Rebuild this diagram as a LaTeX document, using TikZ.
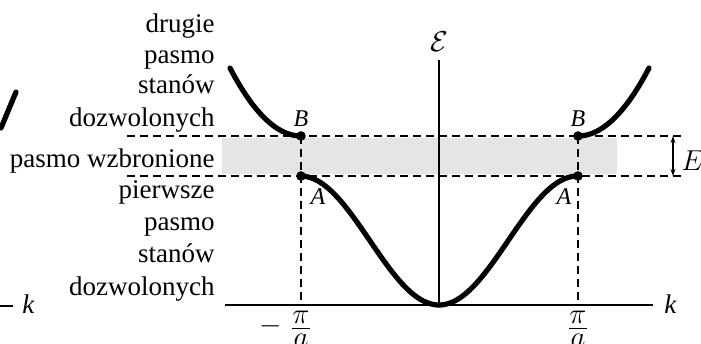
\documentclass[tikz,border=0pt]{standalone}
\usepackage{fontspec}
\setmainfont{Liberation Serif}
\usetikzlibrary{arrows.meta}
\begin{document}
\begin{tikzpicture}[x=0.5pt,y=-0.5pt,
  thick curve/.style={line width=2.6pt,line cap=round},
  axisline/.style={line width=0.7pt},
  dashline/.style={line width=0.7pt,dash pattern=on 4pt off 2.5pt},
  lbl/.style={font=\fontsize{13.5}{16}\selectfont,inner sep=0pt,anchor=base east},
  ptlbl/.style={font=\fontsize{12}{14}\selectfont\itshape,inner sep=0pt},
  fr/.style={font=\fontsize{13.5}{16}\selectfont,inner sep=0pt},
  dot/.style={circle,fill=black,inner sep=0pt,minimum size=4.8pt}]
\useasboundingbox (0,0) rectangle (701,343);
% band
\fill[gray!20] (222,138) rectangle (617,174);
% coordinates
\coordinate (O) at (439,305);
\coordinate (Etop) at (439,60);
\coordinate (Kl) at (225,305);
\coordinate (Kr) at (653,305);
\coordinate (Bl) at (301,136);
\coordinate (Al) at (301,176);
\coordinate (Br) at (578,136);
\coordinate (Ar) at (578,176);
\coordinate (Pl) at (301,305);
\coordinate (Pr) at (578,305);
\coordinate (Dtl) at (127,136);
\coordinate (Dtr) at (683,136);
\coordinate (Dbl) at (127,176);
\coordinate (Dbr) at (683,176);
\coordinate (Gt) at (673,136);
\coordinate (Gb) at (673,176);
% dashed lines
\draw[dashline] (Dtl) -- (Dtr);
\draw[dashline] (Dbl) -- (Dbr);
\draw[dashline] (Bl) -- (Pl);
\draw[dashline] (Br) -- (Pr);
% axes
\draw[axisline] (Kl) -- (Kr);
\draw[axisline] (O) -- (Etop);
% curves
\draw[thick curve] plot[domain=-1:1,samples=121,smooth] ({439+138.5*\x},{176+64.5*(1+cos(180*\x))});
\draw[thick curve] plot[domain=0:1,samples=41,smooth] ({301-71*\x},{136-68*\x*\x});
\draw[thick curve] plot[domain=0:1,samples=41,smooth] ({578+71*\x},{136-68*\x*\x});
\node[dot] (dBl) at (Bl) {};
\node[dot] (dAl) at (Al) {};
\node[dot] (dBr) at (Br) {};
\node[dot] (dAr) at (Ar) {};
% point labels
\node[ptlbl] (lB1) at (301,119) {B};
\node[ptlbl] (lA1) at (318,197) {A};
\node[ptlbl] (lB2) at (578,119) {B};
\node[ptlbl] (lA2) at (564,197) {A};
% energy gap arrow
\draw[axisline,{Stealth[length=3.5pt,width=2.5pt]}-{Stealth[length=3.5pt,width=2.5pt]}] (Gt) -- (Gb);
\node[font=\fontsize{13.5}{16}\selectfont,inner sep=0pt,anchor=base west] (Eg) at (681,170) {$E_g$};
% axis labels
\node[font=\fontsize{13.5}{16}\selectfont,inner sep=0pt] (Elbl) at (439,42) {$\mathcal{E}$};
\node[font=\fontsize{13.5}{16}\selectfont\itshape,inner sep=0pt,anchor=base west] (klbl) at (664,313) {k};
% fractions -pi/a and pi/a
\node[fr] (mn) at (271,326) {$-$};
\node[fr,anchor=base] (pi1) at (301,323) {$\pi$};
\coordinate (b1l) at (292,328);
\coordinate (b1r) at (310,328);
\draw[line width=0.5pt] (b1l) -- (b1r);
\node[fr,anchor=base] (a1) at (301,346) {$a$};
\node[fr,anchor=base] (pi2) at (578,323) {$\pi$};
\coordinate (b2l) at (569,328);
\coordinate (b2r) at (587,328);
\draw[line width=0.5pt] (b2l) -- (b2r);
\node[fr,anchor=base] (a2) at (578,346) {$a$};
% side texts
\node[lbl] (t1) at (215,32) {drugie};
\node[lbl] (t2) at (215,63) {pasmo};
\node[lbl] (t3) at (215,93) {stanów};
\node[lbl] (t4) at (215,126) {dozwolonych};
\node[lbl] (t5) at (215,167) {pasmo wzbronione};
\node[lbl] (t6) at (215,198) {pierwsze};
\node[lbl] (t7) at (215,230) {pasmo};
\node[lbl] (t8) at (215,262) {stanów};
\node[lbl] (t9) at (215,295) {dozwolonych};
% left fragment of neighbouring figure
\coordinate (F1) at (16,92);
\coordinate (F2) at (1,128);
\draw[thick curve] (F1) -- (F2);
\coordinate (L1) at (-2,306);
\coordinate (L2) at (13,306);
\draw[axisline] (L1) -- (L2);
\node[font=\fontsize{13.5}{16}\selectfont\itshape,inner sep=0pt,anchor=base west] (kl2) at (22,313) {k};
\end{tikzpicture}
\end{document}
